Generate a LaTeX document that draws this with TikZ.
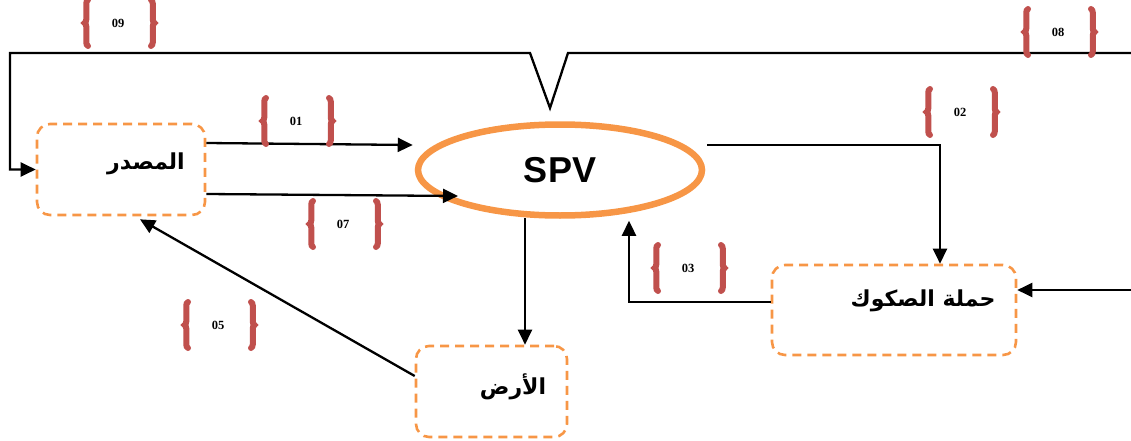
\documentclass[tikz,border=0pt]{standalone}
\usepackage{fontspec}
\setmainfont{Liberation Serif}
\newfontfamily\arabicfont[Script=Arabic]{DejaVu Sans}
\newfontfamily\spvfont{Liberation Sans}
\TeXXeTstate=1
\usetikzlibrary{shapes.geometric,arrows.meta,decorations.pathreplacing,calc}
\definecolor{orng}{HTML}{F79646}
\definecolor{bred}{HTML}{C0504D}
\newcommand\bracelab[4]{%
  \node[num] (#1) at (#2,#3) {#4};
  \draw[brc] (#2-30,#3+23) -- (#2-30,#3-23);
  \draw[brc] (#2+33,#3-23) -- (#2+33,#3+23);
}
\begin{document}
\begin{tikzpicture}[x=1pt,y=-1pt,
  box/.style={draw=orng, line width=2.6pt, dash pattern=on 9pt off 6pt, rounded corners=13pt, inner sep=0pt},
  conn/.style={line width=2.3pt, black},
  arr/.style={conn, -{Triangle[length=15pt,width=14pt]}},
  brc/.style={draw=bred, line width=6pt, line cap=round, decorate, decoration={brace, amplitude=3.5pt}},
  num/.style={font=\bfseries\fontsize{12.5}{14}\selectfont},
  ar/.style={font=\arabicfont\bfseries\fontsize{22}{26}\selectfont}
]
\useasboundingbox (0,0) rectangle (1131,441);

% nodes
\node[draw=orng, line width=6.5pt, ellipse, minimum width=284pt, minimum height=91pt, inner sep=0pt,
      font=\spvfont\bfseries\fontsize{36}{40}\selectfont] (spv) at (560,170) {SPV};
\node[box, minimum width=168pt, minimum height=91pt] (src) at (121,169.5) {};
\node[ar] (srct) at (146,164) {\beginR المصدر\endR};
\node[box, minimum width=151pt, minimum height=91pt] (land) at (491.5,391.5) {};
\node[ar] (landt) at (513,387) {\beginR الأرض\endR};
\node[box, minimum width=244pt, minimum height=90pt] (hold) at (894,310) {};
\node[ar] (holdt) at (923,301) {\beginR حملة الصكوك\endR};

% free ends
\coordinate (r1) at (1131,53);
\coordinate (r2) at (1131,290);

% connectors
\draw[arr] ($(src.east)+(0,-26.5)$) -- ($(spv.west)+(-2,-25)$);
\draw[arr] ($(src.east)+(0,24.5)$) -- ($(spv.center)+(-102,26)$);
\draw[arr] ($(spv.east)+(2,-25)$) -| ($(hold.north)+(46,0)$);
\draw[arr] ($(hold.west)+(0,-8)$) -| ($(spv.south)+(69,2)$);
\draw[arr] ($(spv.south)+(-35,-1)$) -- ($(land.north)+(33.5,0)$);
\draw[arr] ($(land.west)+(0,-15.5)$) -- ($(src.south)+(19,3)$);
\draw[arr] (r1) -- (568,53) -- (550,108) -- (530,53) -- (10,53) -- (10,169.5) -- (src.west);
\draw[arr] (r2) -- ($(hold.east)+(0,-20)$);

% brace labels
\bracelab{l09}{118}{23}{09}
\bracelab{l08}{1058}{32}{08}
\bracelab{l01}{296}{121}{01}
\bracelab{l02}{960}{112}{02}
\bracelab{l07}{343}{224}{07}
\bracelab{l03}{688}{268}{03}
\bracelab{l05}{218}{325}{05}
\end{tikzpicture}
\end{document}
